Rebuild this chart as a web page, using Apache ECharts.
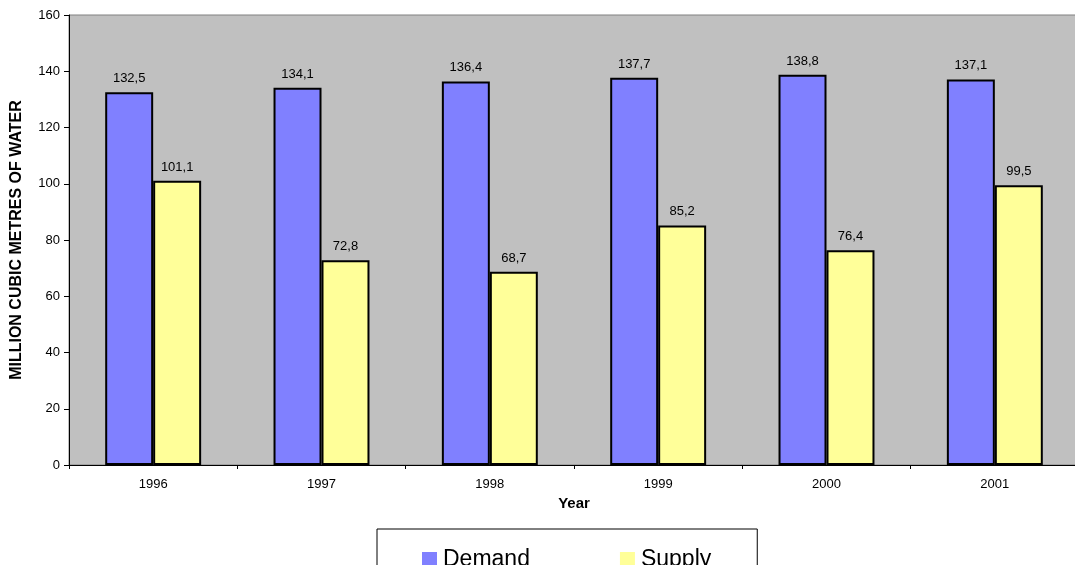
<!DOCTYPE html>
<html>
<head>
<meta charset="utf-8">
<script src="https://cdn.jsdelivr.net/npm/echarts@6/dist/echarts.min.js"></script>
<style>html,body{margin:0;padding:0;background:#fff;overflow:hidden;width:1075px;height:565px}#c{width:1079px;height:565px}</style>
</head>
<body>
<div id="c"></div>
<script>
const years = ['1996','1997','1998','1999','2000','2001'];
const demand = [132.5, 134.1, 136.4, 137.7, 138.8, 137.1];
const supply = [101.1, 72.8, 68.7, 85.2, 76.4, 99.5];
const yTicks = {min: 0, max: 160, interval: 20};

const FONT = 'Arial, "Liberation Sans", sans-serif';
const chart = echarts.init(document.getElementById('c'), null, {renderer: 'canvas'});
const lbl = {
  show: true, position: 'top', distance: 7, color: '#000', fontSize: 13, fontFamily: FONT,
  formatter: p => p.value.toFixed(1).replace('.', ',')
};
chart.setOption({
  animation: false,
  grid: {left: 69, right: 0, top: 15, bottom: 100, show: true, backgroundColor: '#C0C0C0', borderColor: '#808080', borderWidth: 1},
  legend: {
    top: 529, left: 377,
    data: ['Demand', 'Supply'],
    itemWidth: 15, itemHeight: 15, itemGap: 90,
    itemStyle: {borderWidth: 0},
    borderColor: '#000', borderWidth: 1,
    padding: [19, 46, 10, 45],
    icon: 'rect',
    textStyle: {fontSize: 23, fontFamily: FONT, color: '#000', padding: [0, 0, 0, 1]}
  },
  xAxis: {
    type: 'category', data: years,
    name: 'Year', nameLocation: 'middle', nameGap: 30,
    nameTextStyle: {fontSize: 15, fontWeight: 'bold', fontFamily: FONT, color: '#000'},
    axisLine: {lineStyle: {color: '#000', width: 1}},
    axisTick: {show: true, length: 4, lineStyle: {color: '#000'}},
    axisLabel: {fontSize: 13, fontFamily: FONT, color: '#000', margin: 13},
    splitLine: {show: false}
  },
  yAxis: {
    type: 'value', min: yTicks.min, max: yTicks.max, interval: yTicks.interval,
    name: 'MILLION CUBIC METRES OF WATER', nameLocation: 'middle', nameGap: 44,
    nameTextStyle: {fontSize: 16, fontWeight: 'bold', fontFamily: FONT, color: '#000'},
    axisLine: {show: true, lineStyle: {color: '#000', width: 1}},
    axisTick: {show: true, length: 5, lineStyle: {color: '#000'}},
    axisLabel: {fontSize: 13, fontFamily: FONT, color: '#000', margin: 9},
    splitLine: {show: false}
  },
  series: [
    {name: 'Demand', type: 'bar', data: demand, barGap: '0%', barCategoryGap: '43%',
     itemStyle: {color: '#8080FF', borderColor: '#000', borderWidth: 2}, label: lbl},
    {name: 'Supply', type: 'bar', data: supply, barGap: '0%', barCategoryGap: '43%',
     itemStyle: {color: '#FFFF99', borderColor: '#000', borderWidth: 2}, label: lbl}
  ]
});
</script>
</body>
</html>
